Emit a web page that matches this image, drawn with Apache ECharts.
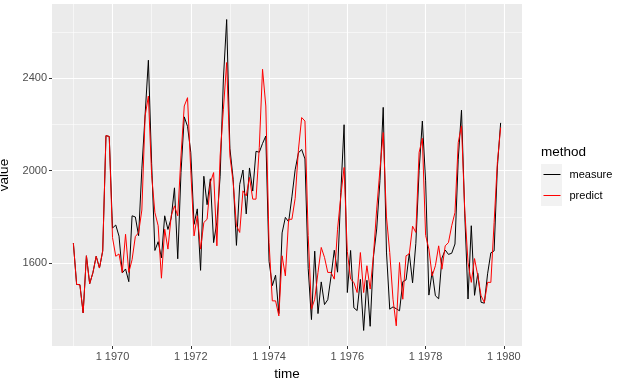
<!DOCTYPE html>
<html><head><meta charset="utf-8">
<script src="https://cdn.jsdelivr.net/npm/echarts@6/dist/echarts.min.js"></script>
<style>html,body{margin:0;padding:0;background:#fff}#c{width:625px;height:385px}</style>
</head><body><div id="c"></div>
<script>
// monthly series starting January 1969
const startYear = 1969;
const seriesNames = ['measure', 'predict'];
const measure = [
  1687,1508,1507,1385,1632,1511,1559,1630,1579,1653,2152,2148,
  1752,1765,1717,1558,1575,1520,1805,1800,1719,2008,2242,2478,
  2030,1655,1693,1623,1805,1746,1795,1926,1619,1992,2233,2192,
  2080,1768,1835,1569,1976,1853,1965,1689,1778,1976,2397,2654,
  2097,1963,1677,1941,2003,1813,2012,1912,2084,2080,2118,2150,
  1608,1503,1548,1382,1731,1798,1779,1887,2004,2077,2092,2051,
  1577,1356,1652,1382,1519,1421,1442,1543,1656,1561,1905,2199,
  1473,1655,1407,1395,1530,1309,1526,1327,1627,1748,1958,2274,
  1648,1401,1411,1403,1394,1520,1528,1643,1515,1685,2000,2215,
  1956,1462,1563,1459,1446,1622,1657,1638,1643,1683,2050,2262,
  1813,1445,1762,1461,1556,1431,1427,1554,1645,1653,2016,2207
];
const predict = [
  1687,1508,1507,1385,1632,1511,1559,1630,1579,1653,2152,2148,
  1711,1630,1640,1560,1725,1560,1615,1715,1732,1830,2237,2323,
  1980,1819,1762,1535,1747,1661,1805,1848,1805,2064,2280,2316,
  2000,1718,1805,1661,1776,1790,1949,1992,1675,2064,2266,2468,
  2064,1949,1762,1733,1913,1891,1971,1877,1877,2100,2439,2280,
  1689,1437,1437,1372,1632,1545,1790,1790,1880,2090,2230,2215,
  1720,1401,1444,1560,1668,1625,1560,1560,1531,1747,1891,2014,
  1650,1531,1517,1473,1646,1473,1589,1488,1632,1834,2006,2165,
  1800,1646,1444,1329,1603,1444,1632,1640,1760,1733,2079,2140,
  1720,1661,1545,1589,1675,1574,1675,1689,1762,1819,2122,2194,
  1830,1603,1517,1620,1545,1459,1430,1517,1517,1776,2035,2187
];
const xMajorTicks = [1970, 1972, 1974, 1976, 1978, 1980];
const xMinorTicks = [1969, 1971, 1973, 1975, 1977, 1979];
const yMajorTicks = [1600, 2000, 2400];
const yMinorTicks = [1400, 1800, 2200, 2600];
const xTickPrefix = '1 ';
const xTitle = 'time', yTitle = 'value', legendTitle = 'method';

const toPairs = arr => arr.map((v, i) => [startYear + i / 12, v]);
const allVals = measure.concat(predict);
const xLo = startYear, xHi = startYear + (measure.length - 1) / 12;
const yLo = Math.min(...allVals), yHi = Math.max(...allVals);
const xPad = (xHi - xLo) * 0.05, yPad = (yHi - yLo) * 0.05;

const FONT = '"Liberation Sans", Arial, sans-serif';
const gridLeft = 52, gridRight = 103, gridTop = 4, gridBottom = 39;

const chart = echarts.init(document.getElementById('c'), null, {renderer: 'canvas'});
chart.setOption({
  animation: false,
  backgroundColor: '#ffffff',
  textStyle: {fontFamily: FONT},
  grid: {left: gridLeft, right: gridRight, top: gridTop, bottom: gridBottom,
         containLabel: false, outerBoundsMode: 'none',
         show: true, backgroundColor: '#EBEBEB', borderWidth: 0},
  title: {text: legendTitle, left: 541, top: 145, padding: 0,
          textStyle: {fontFamily: FONT, fontSize: 13.5, fontWeight: 'normal', color: '#000'}},
  legend: {
    orient: 'vertical', left: 543, top: 164, padding: 0, itemGap: 0,
    itemWidth: 17, itemHeight: 14,
    itemStyle: {opacity: 0, borderWidth: 0},
    lineStyle: {width: 1},
    data: seriesNames,
    textStyle: {fontFamily: FONT, fontSize: 11, color: '#000', lineHeight: 21, padding: [0, 0, 0, 4]}
  },
  graphic: [
    {type: 'rect', left: 541, top: 164, shape: {width: 21, height: 21}, style: {fill: '#F2F2F2'}, z: 1, silent: true},
    {type: 'rect', left: 541, top: 185, shape: {width: 21, height: 21}, style: {fill: '#F2F2F2'}, z: 1, silent: true}
  ],
  xAxis: [
    {type: 'value', min: xLo - xPad, max: xHi + xPad,
     name: xTitle, nameLocation: 'middle', nameGap: 19,
     nameTextStyle: {fontFamily: FONT, fontSize: 13.5, color: '#000'},
     axisLine: {show: false},
     axisTick: {show: true, length: 3, customValues: xMajorTicks, lineStyle: {color: '#333333', width: 1}},
     axisLabel: {customValues: xMajorTicks, margin: 5, fontFamily: FONT, fontSize: 11, color: '#4D4D4D',
                 formatter: v => xTickPrefix + v},
     splitLine: {show: true, lineStyle: {color: '#FFFFFF', width: 1.1}}},
    {type: 'value', min: xLo - xPad, max: xHi + xPad, position: 'bottom',
     axisLine: {show: false},
     axisTick: {show: false, customValues: xMinorTicks},
     axisLabel: {show: false, customValues: xMinorTicks},
     splitLine: {show: true, lineStyle: {color: '#FFFFFF', width: 0.55}}}
  ],
  yAxis: [
    {type: 'value', min: yLo - yPad, max: yHi + yPad,
     name: yTitle, nameLocation: 'middle', nameGap: 30, nameRotate: 90,
     nameTextStyle: {fontFamily: FONT, fontSize: 13.5, color: '#000'},
     axisLine: {show: false},
     axisTick: {show: true, length: 3, customValues: yMajorTicks, lineStyle: {color: '#333333', width: 1}},
     axisLabel: {customValues: yMajorTicks, margin: 5, fontFamily: FONT, fontSize: 11, color: '#4D4D4D',
                 formatter: v => String(v)},
     splitLine: {show: true, lineStyle: {color: '#FFFFFF', width: 1.1}}},
    {type: 'value', min: yLo - yPad, max: yHi + yPad, position: 'left',
     axisLine: {show: false},
     axisTick: {show: false, customValues: yMinorTicks},
     axisLabel: {show: false, customValues: yMinorTicks},
     splitLine: {show: true, lineStyle: {color: '#FFFFFF', width: 0.55}}}
  ],
  series: [
    {name: seriesNames[0], type: 'line', data: toPairs(measure), symbol: 'none',
     lineStyle: {color: '#000000', width: 1}, itemStyle: {color: '#000000'}, z: 3},
    {name: seriesNames[1], type: 'line', data: toPairs(predict), symbol: 'none',
     lineStyle: {color: '#FF0000', width: 1}, itemStyle: {color: '#FF0000'}, z: 4}
  ]
});
</script>
</body></html>
